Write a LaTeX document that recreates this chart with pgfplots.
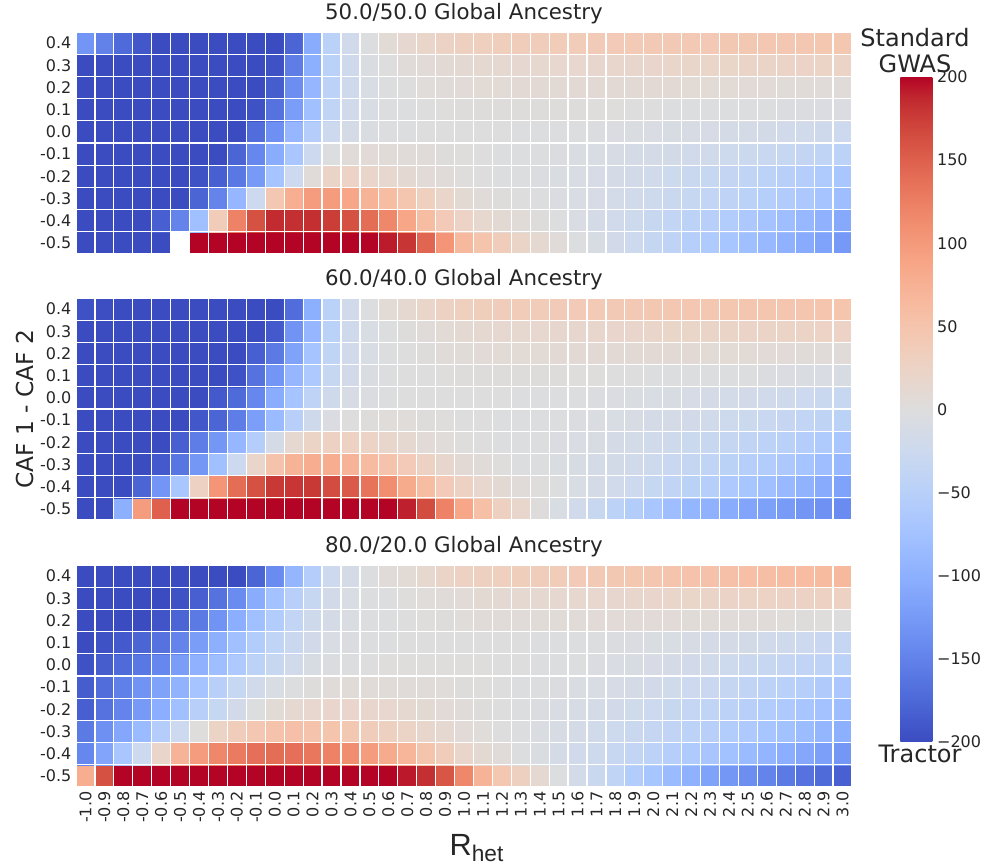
\documentclass[border=0pt]{standalone}
\usepackage{pgfplots}
\pgfplotsset{compat=1.18}
\usepackage{fontspec}
\setmainfont{DejaVu Sans}
\newfontfamily\liberation{Liberation Sans}
\pgfplotsset{
  colormap={coolwarm}{rgb255=(59,76,192) rgb255=(68,90,204) rgb255=(77,104,215) rgb255=(87,117,225) rgb255=(98,130,234) rgb255=(108,142,241) rgb255=(119,154,247) rgb255=(130,165,251) rgb255=(141,176,254) rgb255=(152,185,255) rgb255=(163,194,255) rgb255=(174,201,253) rgb255=(184,208,249) rgb255=(194,213,244) rgb255=(204,217,238) rgb255=(213,219,230) rgb255=(221,221,221) rgb255=(229,216,209) rgb255=(236,211,197) rgb255=(241,204,185) rgb255=(245,196,173) rgb255=(247,187,160) rgb255=(247,177,148) rgb255=(247,166,135) rgb255=(244,154,123) rgb255=(241,141,111) rgb255=(236,127,99) rgb255=(229,112,88) rgb255=(222,96,77) rgb255=(213,80,66) rgb255=(203,62,56) rgb255=(192,40,47) rgb255=(180,4,38)},
  hm/.style={
    scale only axis, width=582pt, height=166.5pt,
    anchor=south west,
    xmin=-0.5, xmax=40.5, ymin=-0.5, ymax=9.5,
    enlargelimits=false,
    colormap name=coolwarm,
    point meta min=-200, point meta max=200,
    axis line style={draw=none},
    major tick length=0pt, minor tick length=0pt,
    xtick={0,...,40}, ytick={0,...,9},
    yticklabels={-0.5,-0.4,-0.3,-0.2,-0.1,0.0,0.1,0.2,0.3,0.4},
    minor xtick={-0.5,0.5,...,40.5},
    minor ytick={-0.5,0.5,...,9.5},
    xminorgrids=true, yminorgrids=true,
    minor grid style={white, line width=0.9pt},
    axis on top,
    tick label style={font=\fontsize{12}{12}\selectfont, text=black!85},
    title style={font=\fontsize{16}{16}\selectfont, text=black!85, at={(0.5,1)}, anchor=base, yshift=3pt},
  },
  hmplot/.style={matrix plot*, point meta=explicit, mesh/cols=41},
}
\begin{document}
\begin{tikzpicture}
\useasboundingbox (0pt,0pt) rectangle (742.5pt,648.75pt);
% ---------------- Panel 1 ----------------
\begin{axis}[hm, at={(57pt,458.25pt)}, xticklabels={}, title={50.0/50.0 Global Ancestry},
  colorbar,
  colorbar/width=24pt,
  colorbar style={
    at={(parent axis.north east)}, anchor=north west,
    xshift=27.75pt, yshift=-33.75pt,
    scale only axis, width=24pt, height=498.75pt,
    axis line style={draw=none},
    ytick={-200,-150,-100,-50,0,50,100,150,200},
    yticklabels={−200,−150,−100,−50,0,50,100,150,200},
    major tick length=0pt,
    yticklabel style={font=\fontsize{12}{12}\selectfont, text=black!85},
  }]
\addplot[hmplot] coordinates {
(0,0)[-200] (1,0)[-200] (2,0)[-200] (3,0)[-200] (4,0)[-200] (5,0)[0] (6,0)[200] (7,0)[200] (8,0)[200] (9,0)[200] (10,0)[200] (11,0)[200] (12,0)[200] (13,0)[200] (14,0)[200] (15,0)[200] (16,0)[192] (17,0)[180] (18,0)[145] (19,0)[105] (20,0)[65] (21,0)[50] (22,0)[35] (23,0)[22] (24,0)[12] (25,0)[5] (26,0)[-2] (27,0)[-9] (28,0)[-17] (29,0)[-25] (30,0)[-34] (31,0)[-43] (32,0)[-52] (33,0)[-61] (34,0)[-70] (35,0)[-79] (36,0)[-88] (37,0)[-97] (38,0)[-106] (39,0)[-116] (40,0)[-126]
(0,1)[-200] (1,1)[-200] (2,1)[-200] (3,1)[-200] (4,1)[-183] (5,1)[-148] (6,1)[-78] (7,1)[37] (8,1)[122] (9,1)[162] (10,1)[185] (11,1)[183] (12,1)[183] (13,1)[175] (14,1)[162] (15,1)[140] (16,1)[117] (17,1)[88] (18,1)[60] (19,1)[40] (20,1)[25] (21,1)[15] (22,1)[10] (23,1)[6] (24,1)[2] (25,1)[-2] (26,1)[-7] (27,1)[-12] (28,1)[-18] (29,1)[-24] (30,1)[-30] (31,1)[-37] (32,1)[-44] (33,1)[-51] (34,1)[-58] (35,1)[-65] (36,1)[-73] (37,1)[-81] (38,1)[-89] (39,1)[-98] (40,1)[-108]
(0,2)[-200] (1,2)[-200] (2,2)[-200] (3,2)[-200] (4,2)[-200] (5,2)[-200] (6,2)[-178] (7,2)[-148] (8,2)[-90] (9,2)[-25] (10,2)[45] (11,2)[78] (12,2)[98] (13,2)[98] (14,2)[88] (15,2)[73] (16,2)[60] (17,2)[48] (18,2)[33] (19,2)[20] (20,2)[10] (21,2)[5] (22,2)[2] (23,2)[0] (24,2)[-2] (25,2)[-5] (26,2)[-8] (27,2)[-11] (28,2)[-15] (29,2)[-19] (30,2)[-23] (31,2)[-27] (32,2)[-32] (33,2)[-37] (34,2)[-42] (35,2)[-47] (36,2)[-53] (37,2)[-59] (38,2)[-65] (39,2)[-72] (40,2)[-80]
(0,3)[-200] (1,3)[-200] (2,3)[-200] (3,3)[-200] (4,3)[-200] (5,3)[-200] (6,3)[-195] (7,3)[-183] (8,3)[-160] (9,3)[-125] (10,3)[-72] (11,3)[-25] (12,3)[5] (13,3)[22] (14,3)[25] (15,3)[20] (16,3)[15] (17,3)[11] (18,3)[7] (19,3)[4] (20,3)[1] (21,3)[0] (22,3)[-1] (23,3)[-2] (24,3)[-4] (25,3)[-6] (26,3)[-8] (27,3)[-11] (28,3)[-14] (29,3)[-17] (30,3)[-20] (31,3)[-24] (32,3)[-28] (33,3)[-32] (34,3)[-36] (35,3)[-40] (36,3)[-45] (37,3)[-50] (38,3)[-55] (39,3)[-61] (40,3)[-68]
(0,4)[-200] (1,4)[-200] (2,4)[-200] (3,4)[-200] (4,4)[-200] (5,4)[-200] (6,4)[-200] (7,4)[-200] (8,4)[-178] (9,4)[-145] (10,4)[-105] (11,4)[-68] (12,4)[-25] (13,4)[-3] (14,4)[5] (15,4)[7] (16,4)[6] (17,4)[5] (18,4)[4] (19,4)[2] (20,4)[1] (21,4)[0] (22,4)[-1] (23,4)[-2] (24,4)[-3] (25,4)[-4] (26,4)[-6] (27,4)[-8] (28,4)[-10] (29,4)[-12] (30,4)[-14] (31,4)[-16] (32,4)[-18] (33,4)[-20] (34,4)[-23] (35,4)[-26] (36,4)[-29] (37,4)[-32] (38,4)[-36] (39,4)[-40] (40,4)[-45]
(0,5)[-200] (1,5)[-200] (2,5)[-200] (3,5)[-200] (4,5)[-200] (5,5)[-200] (6,5)[-200] (7,5)[-200] (8,5)[-200] (9,5)[-170] (10,5)[-135] (11,5)[-90] (12,5)[-55] (13,5)[-25] (14,5)[-13] (15,5)[-6] (16,5)[-3] (17,5)[-1] (18,5)[0] (19,5)[0] (20,5)[0] (21,5)[0] (22,5)[0] (23,5)[-1] (24,5)[-1] (25,5)[-2] (26,5)[-3] (27,5)[-4] (28,5)[-5] (29,5)[-6] (30,5)[-7] (31,5)[-9] (32,5)[-10] (33,5)[-11] (34,5)[-13] (35,5)[-14] (36,5)[-16] (37,5)[-18] (38,5)[-20] (39,5)[-22] (40,5)[-25]
(0,6)[-200] (1,6)[-200] (2,6)[-200] (3,6)[-200] (4,6)[-200] (5,6)[-200] (6,6)[-200] (7,6)[-200] (8,6)[-200] (9,6)[-195] (10,6)[-165] (11,6)[-122] (12,6)[-78] (13,6)[-40] (14,6)[-20] (15,6)[-8] (16,6)[-3] (17,6)[-1] (18,6)[0] (19,6)[1] (20,6)[2] (21,6)[2] (22,6)[2] (23,6)[2] (24,6)[2] (25,6)[2] (26,6)[2] (27,6)[1] (28,6)[1] (29,6)[0] (30,6)[0] (31,6)[-1] (32,6)[-1] (33,6)[-2] (34,6)[-2] (35,6)[-3] (36,6)[-3] (37,6)[-4] (38,6)[-4] (39,6)[-5] (40,6)[-5]
(0,7)[-200] (1,7)[-200] (2,7)[-200] (3,7)[-200] (4,7)[-200] (5,7)[-200] (6,7)[-200] (7,7)[-200] (8,7)[-200] (9,7)[-200] (10,7)[-185] (11,7)[-138] (12,7)[-90] (13,7)[-45] (14,7)[-22] (15,7)[-8] (16,7)[-3] (17,7)[0] (18,7)[3] (19,7)[5] (20,7)[7] (21,7)[8] (22,7)[8] (23,7)[9] (24,7)[9] (25,7)[9] (26,7)[9] (27,7)[9] (28,7)[9] (29,7)[9] (30,7)[9] (31,7)[9] (32,7)[8] (33,7)[8] (34,7)[8] (35,7)[7] (36,7)[7] (37,7)[6] (38,7)[6] (39,7)[5] (40,7)[5]
(0,8)[-200] (1,8)[-200] (2,8)[-200] (3,8)[-200] (4,8)[-200] (5,8)[-200] (6,8)[-200] (7,8)[-200] (8,8)[-200] (9,8)[-200] (10,8)[-195] (11,8)[-155] (12,8)[-100] (13,8)[-47] (14,8)[-22] (15,8)[-6] (16,8)[0] (17,8)[4] (18,8)[7] (19,8)[9] (20,8)[11] (21,8)[12] (22,8)[13] (23,8)[14] (24,8)[15] (25,8)[16] (26,8)[16] (27,8)[17] (28,8)[18] (29,8)[18] (30,8)[19] (31,8)[20] (32,8)[20] (33,8)[21] (34,8)[21] (35,8)[22] (36,8)[22] (37,8)[23] (38,8)[23] (39,8)[24] (40,8)[24]
(0,9)[-130] (1,9)[-150] (2,9)[-172] (3,9)[-190] (4,9)[-200] (5,9)[-200] (6,9)[-200] (7,9)[-200] (8,9)[-200] (9,9)[-200] (10,9)[-200] (11,9)[-178] (12,9)[-105] (13,9)[-48] (14,9)[-20] (15,9)[-3] (16,9)[8] (17,9)[14] (18,9)[20] (19,9)[26] (20,9)[30] (21,9)[33] (22,9)[34] (23,9)[35] (24,9)[36] (25,9)[37] (26,9)[38] (27,9)[39] (28,9)[40] (29,9)[41] (30,9)[42] (31,9)[42] (32,9)[43] (33,9)[43] (34,9)[44] (35,9)[44] (36,9)[45] (37,9)[45] (38,9)[45] (39,9)[46] (40,9)[46]
};
% missing cell (no value) at R_het=-0.5, CAF diff=-0.5
\addplot[fill=white, draw=none] coordinates {(4.5,-0.5) (5.5,-0.5) (5.5,0.5) (4.5,0.5)} -- cycle;
\end{axis}
% ---------------- Panel 2 ----------------
\begin{axis}[hm, at={(57pt,258.75pt)}, xticklabels={}, title={60.0/40.0 Global Ancestry}]
\addplot[hmplot] coordinates {
(0,0)[-200] (1,0)[-200] (2,0)[-100] (3,0)[98] (4,0)[150] (5,0)[200] (6,0)[200] (7,0)[200] (8,0)[200] (9,0)[200] (10,0)[200] (11,0)[200] (12,0)[200] (13,0)[200] (14,0)[200] (15,0)[200] (16,0)[200] (17,0)[190] (18,0)[165] (19,0)[122] (20,0)[88] (21,0)[56] (22,0)[30] (23,0)[18] (24,0)[2] (25,0)[-8] (26,0)[-18] (27,0)[-30] (28,0)[-45] (29,0)[-56] (30,0)[-68] (31,0)[-80] (32,0)[-92] (33,0)[-98] (34,0)[-105] (35,0)[-112] (36,0)[-118] (37,0)[-124] (38,0)[-129] (39,0)[-134] (40,0)[-140]
(0,1)[-200] (1,1)[-200] (2,1)[-200] (3,1)[-178] (4,1)[-130] (5,1)[-68] (6,1)[28] (7,1)[105] (8,1)[140] (9,1)[162] (10,1)[178] (11,1)[180] (12,1)[178] (13,1)[165] (14,1)[155] (15,1)[135] (16,1)[112] (17,1)[82] (18,1)[60] (19,1)[40] (20,1)[27] (21,1)[16] (22,1)[10] (23,1)[5] (24,1)[1] (25,1)[-3] (26,1)[-8] (27,1)[-13] (28,1)[-19] (29,1)[-25] (30,1)[-32] (31,1)[-39] (32,1)[-46] (33,1)[-54] (34,1)[-62] (35,1)[-70] (36,1)[-78] (37,1)[-87] (38,1)[-96] (39,1)[-106] (40,1)[-116]
(0,2)[-200] (1,2)[-200] (2,2)[-200] (3,2)[-200] (4,2)[-188] (5,2)[-162] (6,2)[-128] (7,2)[-78] (8,2)[-25] (9,2)[20] (10,2)[52] (11,2)[73] (12,2)[80] (13,2)[80] (14,2)[72] (15,2)[62] (16,2)[52] (17,2)[40] (18,2)[27] (19,2)[17] (20,2)[9] (21,2)[4] (22,2)[1] (23,2)[-1] (24,2)[-3] (25,2)[-6] (26,2)[-9] (27,2)[-12] (28,2)[-16] (29,2)[-20] (30,2)[-24] (31,2)[-29] (32,2)[-34] (33,2)[-40] (34,2)[-46] (35,2)[-52] (36,2)[-58] (37,2)[-65] (38,2)[-72] (39,2)[-80] (40,2)[-88]
(0,3)[-200] (1,3)[-200] (2,3)[-200] (3,3)[-200] (4,3)[-200] (5,3)[-183] (6,3)[-155] (7,3)[-128] (8,3)[-90] (9,3)[-55] (10,3)[-13] (11,3)[12] (12,3)[24] (13,3)[28] (14,3)[28] (15,3)[24] (16,3)[18] (17,3)[12] (18,3)[7] (19,3)[3] (20,3)[1] (21,3)[0] (22,3)[-1] (23,3)[-2] (24,3)[-3] (25,3)[-5] (26,3)[-7] (27,3)[-9] (28,3)[-12] (29,3)[-15] (30,3)[-18] (31,3)[-22] (32,3)[-26] (33,3)[-30] (34,3)[-34] (35,3)[-39] (36,3)[-44] (37,3)[-49] (38,3)[-55] (39,3)[-61] (40,3)[-68]
(0,4)[-200] (1,4)[-200] (2,4)[-200] (3,4)[-200] (4,4)[-200] (5,4)[-200] (6,4)[-190] (7,4)[-178] (8,4)[-155] (9,4)[-120] (10,4)[-85] (11,4)[-50] (12,4)[-22] (13,4)[-5] (14,4)[0] (15,4)[2] (16,4)[3] (17,4)[3] (18,4)[2] (19,4)[1] (20,4)[0] (21,4)[0] (22,4)[-1] (23,4)[-1] (24,4)[-2] (25,4)[-3] (26,4)[-4] (27,4)[-6] (28,4)[-8] (29,4)[-10] (30,4)[-12] (31,4)[-14] (32,4)[-17] (33,4)[-20] (34,4)[-23] (35,4)[-26] (36,4)[-29] (37,4)[-33] (38,4)[-37] (39,4)[-41] (40,4)[-46]
(0,5)[-200] (1,5)[-200] (2,5)[-200] (3,5)[-200] (4,5)[-200] (5,5)[-200] (6,5)[-200] (7,5)[-188] (8,5)[-172] (9,5)[-145] (10,5)[-105] (11,5)[-72] (12,5)[-42] (13,5)[-22] (14,5)[-10] (15,5)[-4] (16,5)[-1] (17,5)[0] (18,5)[0] (19,5)[0] (20,5)[0] (21,5)[0] (22,5)[0] (23,5)[-1] (24,5)[-1] (25,5)[-2] (26,5)[-3] (27,5)[-4] (28,5)[-5] (29,5)[-6] (30,5)[-8] (31,5)[-9] (32,5)[-11] (33,5)[-13] (34,5)[-15] (35,5)[-17] (36,5)[-19] (37,5)[-22] (38,5)[-25] (39,5)[-28] (40,5)[-32]
(0,6)[-200] (1,6)[-200] (2,6)[-200] (3,6)[-200] (4,6)[-200] (5,6)[-200] (6,6)[-200] (7,6)[-200] (8,6)[-195] (9,6)[-165] (10,6)[-130] (11,6)[-90] (12,6)[-62] (13,6)[-32] (14,6)[-17] (15,6)[-6] (16,6)[-2] (17,6)[0] (18,6)[0] (19,6)[1] (20,6)[2] (21,6)[2] (22,6)[2] (23,6)[2] (24,6)[2] (25,6)[2] (26,6)[1] (27,6)[1] (28,6)[0] (29,6)[0] (30,6)[-1] (31,6)[-1] (32,6)[-2] (33,6)[-2] (34,6)[-3] (35,6)[-3] (36,6)[-4] (37,6)[-5] (38,6)[-6] (39,6)[-7] (40,6)[-9]
(0,7)[-200] (1,7)[-200] (2,7)[-200] (3,7)[-200] (4,7)[-200] (5,7)[-200] (6,7)[-200] (7,7)[-200] (8,7)[-200] (9,7)[-183] (10,7)[-158] (11,7)[-115] (12,7)[-72] (13,7)[-40] (14,7)[-20] (15,7)[-8] (16,7)[-3] (17,7)[0] (18,7)[2] (19,7)[4] (20,7)[6] (21,7)[7] (22,7)[8] (23,7)[8] (24,7)[8] (25,7)[9] (26,7)[9] (27,7)[9] (28,7)[9] (29,7)[9] (30,7)[9] (31,7)[9] (32,7)[9] (33,7)[8] (34,7)[8] (35,7)[8] (36,7)[7] (37,7)[7] (38,7)[6] (39,7)[5] (40,7)[5]
(0,8)[-200] (1,8)[-200] (2,8)[-200] (3,8)[-200] (4,8)[-200] (5,8)[-200] (6,8)[-200] (7,8)[-200] (8,8)[-200] (9,8)[-200] (10,8)[-188] (11,8)[-132] (12,8)[-90] (13,8)[-47] (14,8)[-22] (15,8)[-8] (16,8)[-2] (17,8)[2] (18,8)[5] (19,8)[8] (20,8)[11] (21,8)[13] (22,8)[14] (23,8)[15] (24,8)[16] (25,8)[17] (26,8)[17] (27,8)[18] (28,8)[19] (29,8)[19] (30,8)[20] (31,8)[21] (32,8)[21] (33,8)[22] (34,8)[22] (35,8)[23] (36,8)[23] (37,8)[24] (38,8)[24] (39,8)[25] (40,8)[25]
(0,9)[-195] (1,9)[-198] (2,9)[-200] (3,9)[-200] (4,9)[-200] (5,9)[-200] (6,9)[-200] (7,9)[-200] (8,9)[-200] (9,9)[-200] (10,9)[-200] (11,9)[-170] (12,9)[-100] (13,9)[-47] (14,9)[-20] (15,9)[-3] (16,9)[8] (17,9)[13] (18,9)[20] (19,9)[27] (20,9)[32] (21,9)[34] (22,9)[35] (23,9)[37] (24,9)[38] (25,9)[39] (26,9)[40] (27,9)[41] (28,9)[42] (29,9)[43] (30,9)[44] (31,9)[45] (32,9)[45] (33,9)[46] (34,9)[46] (35,9)[47] (36,9)[47] (37,9)[48] (38,9)[48] (39,9)[49] (40,9)[49]
};
\end{axis}
% ---------------- Panel 3 ----------------
\begin{axis}[hm, at={(57pt,58.5pt)}, title={80.0/20.0 Global Ancestry},
  xticklabels={-1.0,-0.9,-0.8,-0.7,-0.6,-0.5,-0.4,-0.3,-0.2,-0.1,0.0,0.1,0.2,0.3,0.4,0.5,0.6,0.7,0.8,0.9,1.0,1.1,1.2,1.3,1.4,1.5,1.6,1.7,1.8,1.9,2.0,2.1,2.2,2.3,2.4,2.5,2.6,2.7,2.8,2.9,3.0},
  xticklabel style={rotate=90, anchor=east}]
\addplot[hmplot] coordinates {
(0,0)[80] (1,0)[162] (2,0)[200] (3,0)[200] (4,0)[200] (5,0)[200] (6,0)[200] (7,0)[200] (8,0)[200] (9,0)[200] (10,0)[200] (11,0)[200] (12,0)[200] (13,0)[200] (14,0)[200] (15,0)[200] (16,0)[200] (17,0)[193] (18,0)[183] (19,0)[158] (20,0)[118] (21,0)[72] (22,0)[46] (23,0)[30] (24,0)[12] (25,0)[-2] (26,0)[-15] (27,0)[-28] (28,0)[-40] (29,0)[-58] (30,0)[-70] (31,0)[-85] (32,0)[-98] (33,0)[-115] (34,0)[-128] (35,0)[-138] (36,0)[-148] (37,0)[-158] (38,0)[-165] (39,0)[-173] (40,0)[-182]
(0,1)[-145] (1,1)[-112] (2,1)[-68] (3,1)[-25] (4,1)[20] (5,1)[72] (6,1)[98] (7,1)[117] (8,1)[128] (9,1)[138] (10,1)[140] (11,1)[138] (12,1)[132] (13,1)[122] (14,1)[112] (15,1)[98] (16,1)[82] (17,1)[70] (18,1)[50] (19,1)[35] (20,1)[20] (21,1)[10] (22,1)[4] (23,1)[-1] (24,1)[-6] (25,1)[-12] (26,1)[-18] (27,1)[-24] (28,1)[-31] (29,1)[-38] (30,1)[-45] (31,1)[-53] (32,1)[-61] (33,1)[-69] (34,1)[-77] (35,1)[-85] (36,1)[-93] (37,1)[-102] (38,1)[-110] (39,1)[-119] (40,1)[-128]
(0,2)[-158] (1,2)[-135] (2,2)[-110] (3,2)[-85] (4,2)[-55] (5,2)[-25] (6,2)[1] (7,2)[24] (8,2)[35] (9,2)[45] (10,2)[52] (11,2)[55] (12,2)[52] (13,2)[50] (14,2)[44] (15,2)[35] (16,2)[30] (17,2)[24] (18,2)[18] (19,2)[12] (20,2)[7] (21,2)[3] (22,2)[0] (23,2)[-3] (24,2)[-6] (25,2)[-10] (26,2)[-14] (27,2)[-18] (28,2)[-23] (29,2)[-28] (30,2)[-33] (31,2)[-39] (32,2)[-45] (33,2)[-51] (34,2)[-57] (35,2)[-63] (36,2)[-70] (37,2)[-77] (38,2)[-84] (39,2)[-92] (40,2)[-100]
(0,3)[-183] (1,3)[-165] (2,3)[-148] (3,3)[-125] (4,3)[-102] (5,3)[-78] (6,3)[-50] (7,3)[-32] (8,3)[-17] (9,3)[-3] (10,3)[8] (11,3)[13] (12,3)[16] (13,3)[19] (14,3)[19] (15,3)[18] (16,3)[16] (17,3)[13] (18,3)[10] (19,3)[7] (20,3)[5] (21,3)[2] (22,3)[0] (23,3)[-2] (24,3)[-4] (25,3)[-7] (26,3)[-10] (27,3)[-13] (28,3)[-17] (29,3)[-21] (30,3)[-25] (31,3)[-30] (32,3)[-35] (33,3)[-40] (34,3)[-45] (35,3)[-51] (36,3)[-57] (37,3)[-63] (38,3)[-69] (39,3)[-75] (40,3)[-82]
(0,4)[-185] (1,4)[-170] (2,4)[-152] (3,4)[-132] (4,4)[-115] (5,4)[-96] (6,4)[-72] (7,4)[-50] (8,4)[-32] (9,4)[-19] (10,4)[-8] (11,4)[-2] (12,4)[2] (13,4)[5] (14,4)[6] (15,4)[6] (16,4)[6] (17,4)[5] (18,4)[4] (19,4)[3] (20,4)[2] (21,4)[1] (22,4)[0] (23,4)[-1] (24,4)[-2] (25,4)[-4] (26,4)[-6] (27,4)[-8] (28,4)[-11] (29,4)[-14] (30,4)[-17] (31,4)[-21] (32,4)[-25] (33,4)[-29] (34,4)[-34] (35,4)[-39] (36,4)[-44] (37,4)[-49] (38,4)[-54] (39,4)[-60] (40,4)[-66]
(0,5)[-195] (1,5)[-185] (2,5)[-172] (3,5)[-160] (4,5)[-145] (5,5)[-122] (6,5)[-98] (7,5)[-80] (8,5)[-62] (9,5)[-45] (10,5)[-30] (11,5)[-19] (12,5)[-9] (13,5)[-4] (14,5)[-2] (15,5)[0] (16,5)[1] (17,5)[1] (18,5)[1] (19,5)[1] (20,5)[1] (21,5)[1] (22,5)[0] (23,5)[0] (24,5)[-1] (25,5)[-2] (26,5)[-3] (27,5)[-5] (28,5)[-7] (29,5)[-9] (30,5)[-11] (31,5)[-14] (32,5)[-17] (33,5)[-20] (34,5)[-23] (35,5)[-27] (36,5)[-31] (37,5)[-35] (38,5)[-39] (39,5)[-43] (40,5)[-48]
(0,6)[-200] (1,6)[-195] (2,6)[-188] (3,6)[-178] (4,6)[-165] (5,6)[-148] (6,6)[-122] (7,6)[-100] (8,6)[-78] (9,6)[-58] (10,6)[-40] (11,6)[-27] (12,6)[-17] (13,6)[-8] (14,6)[-4] (15,6)[-2] (16,6)[-1] (17,6)[0] (18,6)[0] (19,6)[0] (20,6)[0] (21,6)[0] (22,6)[0] (23,6)[0] (24,6)[-1] (25,6)[-1] (26,6)[-2] (27,6)[-3] (28,6)[-4] (29,6)[-5] (30,6)[-6] (31,6)[-8] (32,6)[-10] (33,6)[-12] (34,6)[-14] (35,6)[-16] (36,6)[-19] (37,6)[-22] (38,6)[-25] (39,6)[-29] (40,6)[-34]
(0,7)[-200] (1,7)[-200] (2,7)[-200] (3,7)[-200] (4,7)[-192] (5,7)[-178] (6,7)[-158] (7,7)[-132] (8,7)[-102] (9,7)[-78] (10,7)[-58] (11,7)[-38] (12,7)[-22] (13,7)[-12] (14,7)[-6] (15,7)[-3] (16,7)[-1] (17,7)[0] (18,7)[1] (19,7)[2] (20,7)[3] (21,7)[4] (22,7)[5] (23,7)[5] (24,7)[6] (25,7)[6] (26,7)[6] (27,7)[7] (28,7)[7] (29,7)[7] (30,7)[7] (31,7)[7] (32,7)[6] (33,7)[6] (34,7)[5] (35,7)[5] (36,7)[4] (37,7)[3] (38,7)[2] (39,7)[1] (40,7)[0]
(0,8)[-200] (1,8)[-200] (2,8)[-200] (3,8)[-200] (4,8)[-200] (5,8)[-195] (6,8)[-183] (7,8)[-165] (8,8)[-140] (9,8)[-105] (10,8)[-75] (11,8)[-50] (12,8)[-32] (13,8)[-17] (14,8)[-8] (15,8)[-3] (16,8)[-1] (17,8)[1] (18,8)[3] (19,8)[5] (20,8)[7] (21,8)[10] (22,8)[11] (23,8)[12] (24,8)[13] (25,8)[14] (26,8)[15] (27,8)[16] (28,8)[17] (29,8)[18] (30,8)[19] (31,8)[20] (32,8)[21] (33,8)[22] (34,8)[23] (35,8)[24] (36,8)[25] (37,8)[26] (38,8)[26] (39,8)[27] (40,8)[28]
(0,9)[-200] (1,9)[-200] (2,9)[-200] (3,9)[-200] (4,9)[-200] (5,9)[-200] (6,9)[-200] (7,9)[-200] (8,9)[-200] (9,9)[-178] (10,9)[-140] (11,9)[-92] (12,9)[-55] (13,9)[-25] (14,9)[-12] (15,9)[-3] (16,9)[5] (17,9)[8] (18,9)[15] (19,9)[22] (20,9)[27] (21,9)[30] (22,9)[32] (23,9)[34] (24,9)[36] (25,9)[38] (26,9)[40] (27,9)[42] (28,9)[44] (29,9)[46] (30,9)[48] (31,9)[50] (32,9)[52] (33,9)[54] (34,9)[55] (35,9)[57] (36,9)[58] (37,9)[60] (38,9)[61] (39,9)[63] (40,9)[65]
};
\end{axis}
% ---------------- labels ----------------
\node[anchor=base, font=\fontsize{18}{18}\selectfont, text=black!85] at (686.25pt,613.5pt) {Standard};
\node[anchor=base, font=\fontsize{18}{18}\selectfont, text=black!85] at (686.25pt,594pt) {GWAS};
\node[anchor=base, font=\fontsize{18}{18}\selectfont, text=black!85] at (690pt,77.25pt) {Tractor};
\node[rotate=90, anchor=base, font=\fontsize{17.5}{17.5}\selectfont, text=black!85] at (24.75pt,342pt) {CAF 1 - CAF 2};
\node[anchor=base west, text=black!85] at (333.75pt,7.5pt) {\liberation\fontsize{23}{23}\selectfont R\raisebox{-5pt}{\fontsize{17}{17}\selectfont het}};
\end{tikzpicture}
\end{document}
